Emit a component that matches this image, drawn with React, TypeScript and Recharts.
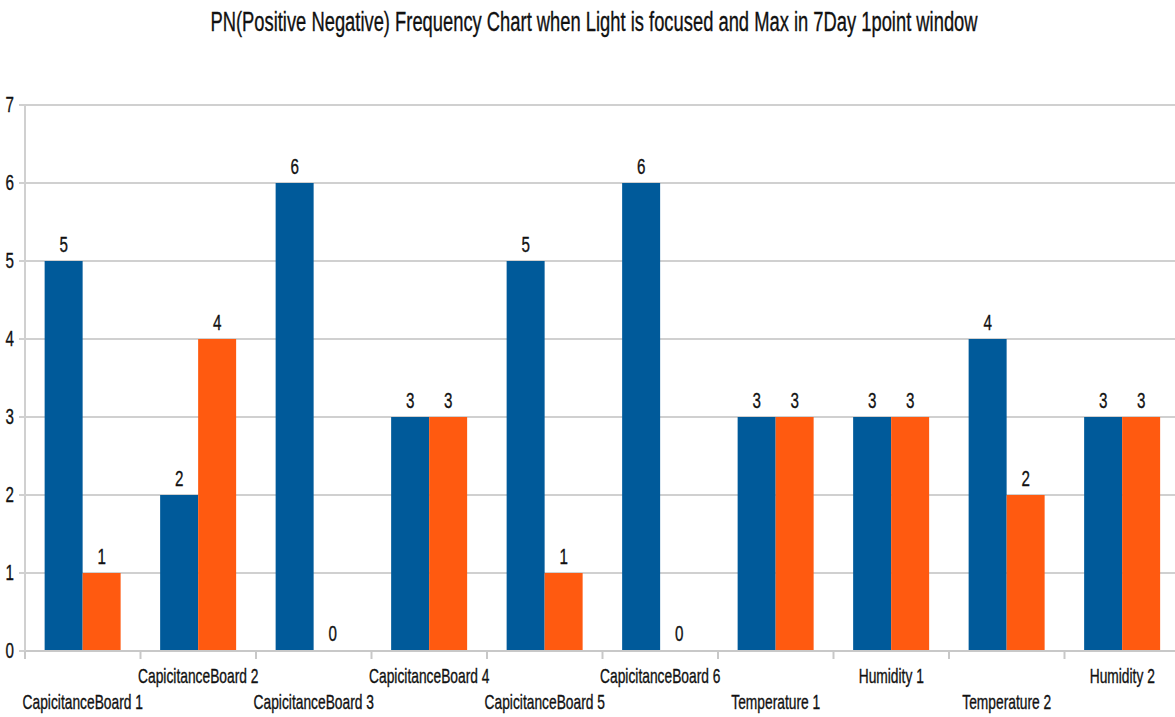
import React from 'react';
import { BarChart, Bar, XAxis, YAxis, CartesianGrid, LabelList } from 'recharts';

const categories = [
  'CapicitanceBoard 1',
  'CapicitanceBoard 2',
  'CapicitanceBoard 3',
  'CapicitanceBoard 4',
  'CapicitanceBoard 5',
  'CapicitanceBoard 6',
  'Temperature 1',
  'Humidity 1',
  'Temperature 2',
  'Humidity 2',
];
const positiveCounts = [5, 2, 6, 3, 5, 6, 3, 3, 4, 3];
const negativeCounts = [1, 4, 0, 3, 1, 0, 3, 3, 2, 3];
const yTicks = [0, 1, 2, 3, 4, 5, 6, 7];

const data = categories.map((name, i) => ({
  name,
  positive: positiveCounts[i],
  negative: negativeCounts[i],
}));

const FONT = "'Liberation Sans', Arial, sans-serif";
const TEXT = '#111';
const NARROW = 0.69;
const GRID = '#d0d0d0';

// Text drawn with a horizontally condensed face
const NarrowText = ({ x, y, size, anchor = 'middle', sx = NARROW, children }: any) => (
  <text
    transform={`translate(${x},${y}) scale(${sx},1)`}
    x={0}
    y={0}
    textAnchor={anchor}
    fontFamily={FONT}
    fontSize={size}
    fill={TEXT}
    stroke={TEXT}
    strokeWidth={0.35}
  >
    {children}
  </text>
);

// Category labels alternate between two rows; a tick mark sits on each category boundary
const StaggeredTick = (props: any) => {
  const { x, y, payload, index, width, visibleTicksCount } = props;
  const half =
    payload && typeof payload.offset === 'number' && payload.offset > 0
      ? payload.offset
      : width / (visibleTicksCount || categories.length) / 2;
  const bx = x - half;
  const dy = index % 2 === 1 ? 23.5 : 49.5;
  return (
    <g>
      <line x1={bx} y1={y - 8} x2={bx} y2={y} stroke="#c8c8c8" strokeWidth={2} />
      <NarrowText x={x} y={y + dy} size={20}>
        {payload.value}
      </NarrowText>
    </g>
  );
};

const ValueTick = (props: any) => {
  const { x, y, payload } = props;
  return (
    <NarrowText x={x - 2} y={y + 7} size={22} anchor="end">
      {payload.value}
    </NarrowText>
  );
};

const ValueLabel = (props: any) => {
  const { x, y, width, value } = props;
  return (
    <NarrowText x={x + width / 2} y={y - 9.5} size={22}>
      {value}
    </NarrowText>
  );
};

// keep zero-valued bars in the layout so their "0" label is still drawn
const keepZero = (value: number) => (value === 0 ? 0.01 : 0);

export default function App() {
  return (
    <div
      style={{
        position: 'absolute',
        left: 0,
        top: 0,
        width: 1175,
        height: 717,
        overflow: 'hidden',
        background: '#fff',
      }}
    >
      <BarChart
        width={1200}
        height={717}
        data={data}
        margin={{ top: 105, right: 20, bottom: 0, left: 0 }}
        barCategoryGap="17%"
        barGap={0}
      >
        <NarrowText x={594} y={31} size={27} sx={0.68}>
          PN(Positive Negative) Frequency Chart when Light is focused and Max in 7Day 1point window
        </NarrowText>
        <CartesianGrid vertical={false} stroke={GRID} strokeWidth={2} />
        <XAxis
          dataKey="name"
          height={66}
          interval={0}
          tick={<StaggeredTick />}
          tickSize={8}
          tickMargin={0}
          tickLine={false}
          axisLine={{ stroke: '#c8c8c8', strokeWidth: 2 }}
        />
        <YAxis
          width={25}
          domain={[0, 7]}
          ticks={yTicks}
          interval={0}
          tickSize={6}
          tickMargin={3}
          tickLine={{ stroke: GRID, strokeWidth: 2 }}
          axisLine={{ stroke: GRID, strokeWidth: 2 }}
          tick={<ValueTick />}
        />
        <Bar dataKey="positive" fill="#005a9a" isAnimationActive={false} minPointSize={keepZero}>
          <LabelList dataKey="positive" content={<ValueLabel />} />
        </Bar>
        <Bar dataKey="negative" fill="#ff5a10" isAnimationActive={false} minPointSize={keepZero}>
          <LabelList dataKey="negative" content={<ValueLabel />} />
        </Bar>
      </BarChart>
    </div>
  );
}
